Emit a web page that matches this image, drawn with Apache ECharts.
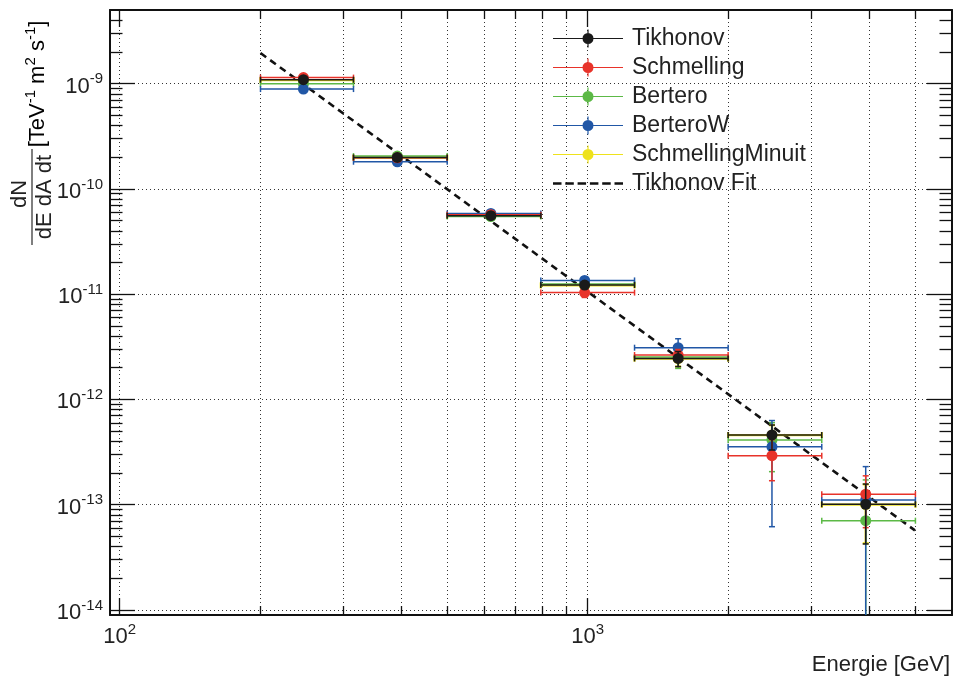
<!DOCTYPE html>
<html><head><meta charset="utf-8">
<script src="https://cdn.jsdelivr.net/npm/echarts@6/dist/echarts.min.js"></script>
<style>html,body{margin:0;padding:0;background:#fff}#c{width:955px;height:682px}</style>
</head><body><div id="c"></div>
<script>
// ---------- data ----------
const energy  = [247, 392, 621, 985, 1560, 2475, 3925];
const binLow  = [200, 316, 501, 794, 1259, 1995, 3162];
const binHigh = [316, 501, 794, 1259, 1995, 3162, 5012];

const tikhonov    = [1.09e-9, 1.99e-10, 5.56e-11, 1.22e-11, 2.45e-12, 4.60e-13, 1.01e-13];
const tikhonovLo  = [1.06e-9, 1.92e-10, 5.30e-11, 1.13e-11, 2.05e-12, 3.31e-13, 4.24e-14];
const tikhonovHi  = [1.12e-9, 2.06e-10, 5.80e-11, 1.31e-11, 2.85e-12, 5.71e-13, 1.57e-13];

const schmelling   = [1.14e-9, 1.97e-10, 5.68e-11, 1.035e-11, 2.64e-12, 2.92e-13, 1.26e-13];
const schmellingLo = [1.10e-9, 1.90e-10, 5.40e-11, 9.30e-12, 2.30e-12, 1.69e-13, 6.05e-14];
const schmellingHi = [1.18e-9, 2.04e-10, 5.95e-11, 1.14e-11, 2.98e-12, 4.15e-13, 1.88e-13];

const bertero   = [9.96e-10, 2.05e-10, 5.45e-11, 1.25e-11, 2.53e-12, 4.12e-13, 7.05e-14];
const berteroLo = [9.60e-10, 1.98e-10, 5.20e-11, 1.16e-11, 1.97e-12, 2.06e-13, 1e-16];
const berteroHi = [1.03e-9, 2.12e-10, 5.70e-11, 1.34e-11, 3.09e-12, 6.01e-13, 1.72e-13];

const berteroW   = [8.87e-10, 1.81e-10, 5.85e-11, 1.35e-11, 3.10e-12, 3.55e-13, 1.11e-13];
const berteroWLo = [8.50e-10, 1.74e-10, 5.60e-11, 1.26e-11, 2.43e-12, 6.18e-14, 1e-16];
const berteroWHi = [9.20e-10, 1.88e-10, 6.10e-11, 1.46e-11, 3.77e-12, 6.30e-13, 2.30e-13];

const schmMinuit   = [1.08e-9, 1.98e-10, 5.55e-11, 1.21e-11, 2.44e-12, 4.58e-13, 1.00e-13];
const schmMinuitLo = [1.05e-9, 1.91e-10, 5.30e-11, 1.12e-11, 2.05e-12, 3.30e-13, 4.30e-14];
const schmMinuitHi = [1.11e-9, 2.05e-10, 5.80e-11, 1.30e-11, 2.84e-12, 5.70e-13, 1.56e-13];

const fitEnergy = [200, 5000];
const fitFlux   = [1.95e-9, 5.7e-14];

// ---------- axis ticks ----------
const XMIN = 95.4, XMAX = 6000, YMIN = 8.96e-15, YMAX = 5e-9;
const xMajorTicks = [100, 1000];
const xMinorTicks = [200, 300, 400, 500, 600, 700, 800, 900, 2000, 3000, 4000, 5000];
const yMajorTicks = [1e-14, 1e-13, 1e-12, 1e-11, 1e-10, 1e-9];
const yMinorMult = [2, 3, 4, 5, 6, 7, 8, 9];
const yMinorTicks = [];
yMajorTicks.forEach(d => yMinorMult.forEach(m => { const v = m * d; if (v > YMIN && v < YMAX * 0.99) yMinorTicks.push(v); }));

const FONT = '"Liberation Sans", Arial, Helvetica, sans-serif';
const TXT = '#222';

const fmt = v => '{b|10}{s|' + Math.round(Math.log10(v)) + '}';
const labelRich = {
  b: {fontSize: 22, fontFamily: FONT, color: TXT, lineHeight: 30, verticalAlign: 'middle'},
  s: {fontSize: 15, fontFamily: FONT, color: TXT, lineHeight: 18, verticalAlign: 'top'}
};
const dotted = {show: true, lineStyle: {color: '#333', width: 1, type: [1, 3]}};

function axis(type, pos, min, max, ticks, len, opts) {
  return Object.assign({
    type: 'log', logBase: 10, position: pos, min: min, max: max, gridIndex: 0,
    axisLine: {show: false, onZero: false},
    axisTick: {show: true, inside: true, length: len, customValues: ticks, lineStyle: {color: '#111', width: 1.3}},
    axisLabel: {show: false},
    splitLine: {show: false}
  }, opts || {});
}
const frameLine = {show: true, onZero: false, lineStyle: {color: '#111', width: 2}};

const xAxes = [
  axis('x', 'bottom', XMIN, XMAX, xMajorTicks, 17, {
    axisLine: frameLine,
    axisLabel: {show: true, customValues: xMajorTicks, formatter: fmt, rich: labelRich, margin: 7},
    splitLine: dotted
  }),
  axis('x', 'bottom', XMIN, XMAX, xMinorTicks, 9, {splitLine: dotted}),
  axis('x', 'top', XMIN, XMAX, xMajorTicks, 17, {axisLine: frameLine}),
  axis('x', 'top', XMIN, XMAX, xMinorTicks, 9)
];
const yAxes = [
  axis('y', 'left', YMIN, YMAX, yMajorTicks, 25, {
    axisLine: frameLine,
    axisLabel: {show: true, customValues: yMajorTicks, formatter: fmt, rich: labelRich, margin: 7, padding: [6, 0, 0, 0]},
    splitLine: dotted
  }),
  axis('y', 'left', YMIN, YMAX, yMinorTicks, 12.5),
  axis('y', 'right', YMIN, YMAX, yMajorTicks, 25, {axisLine: frameLine}),
  axis('y', 'right', YMIN, YMAX, yMinorTicks, 12.5)
];

function errSeries(name, color, vals, lo, hi, z, lw) {
  return {
    type: 'custom', name: name, xAxisIndex: 0, yAxisIndex: 0, z: z,
    itemStyle: {color: color},
    encode: {x: 0, y: 1},
    data: energy.map((e, i) => [e, vals[i], binLow[i], binHigh[i], lo[i], hi[i]]),
    renderItem: function (params, api) {
      const cs = params.coordSys;
      const top = cs.y, bottom = cs.y + cs.height;
      const x = api.value(0), y = api.value(1);
      const p = api.coord([x, y]);
      const pl = api.coord([api.value(2), y]);
      const pr = api.coord([api.value(3), y]);
      let yl = api.coord([x, api.value(4)])[1];
      let yh = api.coord([x, api.value(5)])[1];
      const st = {stroke: color, lineWidth: lw};
      const ch = [];
      const ln = (x1, y1, x2, y2) => ch.push({type: 'line', shape: {x1, y1, x2, y2}, style: st});
      ln(pl[0], p[1], pr[0], p[1]);
      ln(pl[0], p[1] - 3, pl[0], p[1] + 3);
      ln(pr[0], p[1] - 3, pr[0], p[1] + 3);
      const clipL = yl > bottom, clipH = yh < top;
      yl = Math.min(yl, bottom); yh = Math.max(yh, top);
      ln(p[0], yh, p[0], yl);
      if (!clipL) ln(p[0] - 3, yl, p[0] + 3, yl);
      if (!clipH) ln(p[0] - 3, yh, p[0] + 3, yh);
      ch.push({type: 'circle', shape: {cx: p[0], cy: p[1], r: 5.5}, style: {fill: color}});
      return {type: 'group', children: ch};
    }
  };
}

const ICON = 'path://M0,8.4 H70 V9.6 H0 Z M34.4,0 H35.6 V18 H34.4 Z M35,3.5 A5.5,5.5 0 1 1 35,14.5 A5.5,5.5 0 1 1 35,3.5 Z';
const DASH_ICON = 'path://M0,0 H8.5 V2.6 H0 Z M12.3,0 H20.8 V2.6 H12.3 Z M24.6,0 H33.1 V2.6 H24.6 Z M36.9,0 H45.4 V2.6 H36.9 Z M49.2,0 H57.7 V2.6 H49.2 Z M61.5,0 H70 V2.6 H61.5 Z';

const series = [
  {
    type: 'line', name: 'Tikhonov Fit', xAxisIndex: 0, yAxisIndex: 0, z: 1,
    data: fitEnergy.map((e, i) => [e, fitFlux[i]]),
    symbol: 'none', itemStyle: {color: '#111'},
    lineStyle: {color: '#111', width: 2.6, type: [7, 5]}
  },
  errSeries('SchmellingMinuit', '#eee21c', schmMinuit, schmMinuitLo, schmMinuitHi, 2, 2.3),
  errSeries('Bertero', '#5cb946', bertero, berteroLo, berteroHi, 3, 1.5),
  errSeries('BerteroW', '#2157a6', berteroW, berteroWLo, berteroWHi, 4, 1.5),
  errSeries('Schmelling', '#e8332a', schmelling, schmellingLo, schmellingHi, 5, 1.5),
  errSeries('Tikhonov', '#1a1a1a', tikhonov, tikhonovLo, tikhonovHi, 6, 1.5)
];

const chart = echarts.init(document.getElementById('c'), null, {renderer: 'canvas'});
chart.setOption({
  animation: false,
  backgroundColor: '#fff',
  grid: {left: 110, top: 10, width: 842, height: 605, containLabel: false},
  xAxis: xAxes,
  yAxis: yAxes,
  legend: {
    orient: 'vertical', left: 548, top: 19, itemWidth: 70, itemHeight: 18, itemGap: 0,
    selectedMode: false,
    itemStyle: {borderWidth: 0},
    textStyle: {fontSize: 23, fontFamily: FONT, color: TXT, lineHeight: 29, padding: [0, 0, 0, 4]},
    data: [
      {name: 'Tikhonov', icon: ICON},
      {name: 'Schmelling', icon: ICON},
      {name: 'Bertero', icon: ICON},
      {name: 'BerteroW', icon: ICON},
      {name: 'SchmellingMinuit', icon: ICON},
      {name: 'Tikhonov Fit', icon: DASH_ICON, itemStyle: {color: '#111'}}
    ]
  },
  graphic: [
    {type: 'text', x: 950, y: 665, style: {text: 'Energie [GeV]', font: '22px ' + FONT, fill: TXT, align: 'right', verticalAlign: 'middle'}},
    {type: 'group', x: 0, y: 0, rotation: Math.PI / 2, children: [
      {type: 'text', x: -194, y: 20, style: {text: 'dN', font: '22px ' + FONT, fill: TXT, align: 'center', verticalAlign: 'middle'}},
      {type: 'text', x: -197, y: 45, style: {text: 'dE dA dt', font: '22px ' + FONT, fill: TXT, align: 'center', verticalAlign: 'middle'}},
      {type: 'line', shape: {x1: -245, y1: 32, x2: -149, y2: 32}, style: {stroke: '#555', lineWidth: 1.5}},
      {type: 'text', x: -84, y: 38, style: {
        text: '{n|[TeV}{s|-1}{n| m}{s|2}{n| s}{s|-1}{n|]}',
        align: 'center', verticalAlign: 'middle',
        rich: {
          n: {fontSize: 22, fontFamily: FONT, color: TXT, lineHeight: 30, verticalAlign: 'middle'},
          s: {fontSize: 15, fontFamily: FONT, color: TXT, lineHeight: 18, verticalAlign: 'top'}
        }
      }}
    ]}
  ],
  series: series
});
</script>
</body></html>
